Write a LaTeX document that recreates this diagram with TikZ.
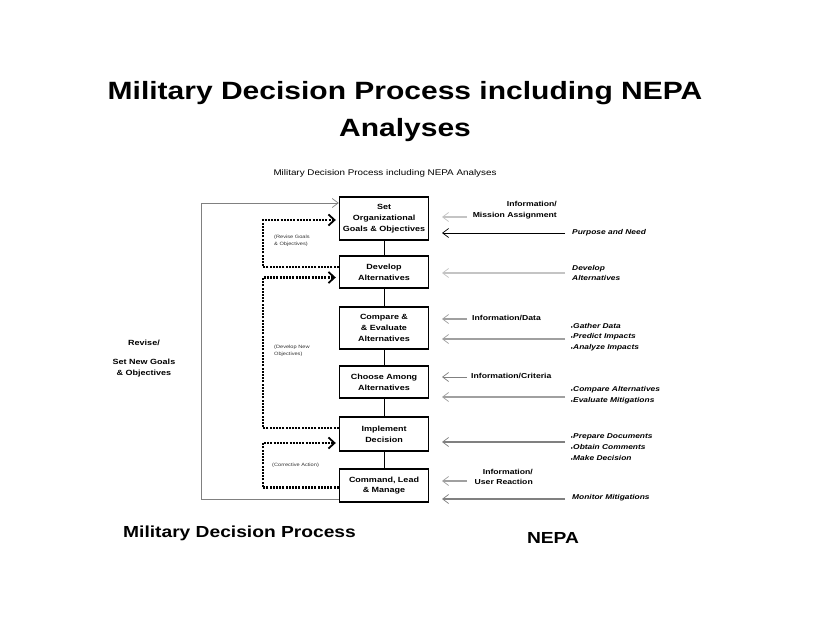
\documentclass[tikz,border=0pt]{standalone}
\usepackage{fontspec}
\setmainfont[FakeStretch=1.2]{Liberation Sans}
\newfontfamily\symf{DejaVu Sans}
\usetikzlibrary{arrows.meta}
\newcommand{\fs}[2]{\fontsize{#1}{#2}\selectfont}
\newcommand{\bul}{{\symf\fs{4}{4}▸}}
\definecolor{lgray}{HTML}{C4C4C4}
\definecolor{mgray}{HTML}{A0A0A0}
\definecolor{dgray}{HTML}{808080}
\begin{document}
\begin{tikzpicture}[x=1pt,y=-1pt,
  stepbox/.style={draw,line width=1.4pt,minimum width=89pt,inner sep=0pt,align=center,font=\bfseries\fs{7.5}{10.8}},
  link/.style={line width=0.8pt},
  dotloop/.style={line width=2.5pt,dash pattern=on 2pt off 1.2pt},
  dothead/.style={-{Straight Barb[length=6pt,width=11pt,line width=1.8pt 0]},shorten >=3pt},
  fback/.style={draw=dgray,line width=0.9pt,-{Straight Barb[length=6pt,width=9pt,line width=0.7pt 0]}},
  rarr/.style={-{Straight Barb[length=6pt,width=9pt,line width=0.7pt 0]}},
  nepa/.style={font=\bfseries\itshape\fs{7}{10.8},align=left,inner sep=0pt},
  info/.style={font=\bfseries\fs{7.2}{10.8},inner sep=0pt},
  tiny/.style={font=\fs{4.7}{7.5},align=left,inner sep=0pt,text=black!80},
  side/.style={font=\bfseries\fs{7.5}{11},align=center,inner sep=0pt}
]
\useasboundingbox[fill=white] (0,0) rectangle (813,628);

% titles
\node[font=\bfseries\fs{25}{37},align=center] (title) at (405,112) {Military Decision Process including NEPA\\Analyses};
\node[font=\fs{8.2}{10}] (sub) at (385,173) {Military Decision Process including NEPA Analyses};
\node[font=\bfseries\fs{16}{18}] (mdp) at (239.5,533) {Military Decision Process};
\node[font=\bfseries\fs{16}{18}] (nepa) at (553,538) {NEPA};

% process boxes
\node[stepbox,minimum height=43pt] (b1) at (384,218.5) {Set\\Organizational\\Goals \& Objectives};
\node[stepbox,minimum height=32pt] (b2) at (384,272) {Develop\\Alternatives};
\node[stepbox,minimum height=42pt] (b3) at (384,328) {Compare \&\\\& Evaluate\\Alternatives};
\node[stepbox,minimum height=32pt] (b4) at (384,382) {Choose Among\\Alternatives};
\node[stepbox,minimum height=34pt] (b5) at (384,434) {Implement\\Decision};
\node[stepbox,minimum height=33pt] (b6) at (384,485.5) {Command, Lead\\\& Manage};

\draw[link] (b1) -- (b2);
\draw[link] (b2) -- (b3);
\draw[link] (b3) -- (b4);
\draw[link] (b4) -- (b5);
\draw[link] (b5) -- (b6);

% outer feedback loop
\draw[fback] ([yshift=-13.5pt]b6.west) -- ++(-137,0) |- ([yshift=15.5pt]b1.west);

% dotted loops
\draw[dotloop,dothead] ([yshift=5pt]b2.west) -- ++(-76,0) |- ([yshift=-1.5pt]b1.west);
\draw[dotloop,dothead] ([yshift=6pt]b5.west) -- ++(-76,0) |- ([yshift=-5.5pt]b2.west);
\draw[dotloop,dothead] ([yshift=-2pt]b6.west) -- ++(-76,0) |- ([yshift=-9pt]b5.west);

\node[tiny,anchor=west] (l1) at (274,241) {(Revise Goals\\\& Objectives)};
\node[tiny,anchor=west] (l2) at (274,351) {(Develop New\\Objectives)};
\node[tiny,anchor=west] (l3) at (272,465) {(Corrective Action)};

% left side label
\node[side] (rev) at (144,343) {Revise/};
\node[side] (sng) at (144,368.5) {Set New Goals\\\& Objectives};

% right side arrows
\foreach \y/\x/\c/\w in {217/467/lgray/1.2, 233/565/black/0.8, 273/565/lgray/2,
  319/467/mgray/1.2, 339/565/mgray/2, 377/467/dgray/1, 397/565/mgray/2,
  442/565/dgray/2, 481/467/mgray/1.2, 499/565/dgray/1.4}
  \draw[rarr,draw=\c,line width=\w pt] (\x,\y) -- (442,\y);

% right side labels
\node[info,anchor=east,align=right] (i1) at (557,210.5) {Information/\\Mission Assignment};
\node[nepa,anchor=west] (n1) at (572,233) {Purpose and Need};
\node[nepa,anchor=west] (n2) at (572,273) {Develop\\Alternatives};
\node[info,anchor=west] (i2) at (472,318) {Information/Data};
\node[nepa,anchor=west] (n3) at (571,337) {\bul Gather Data\\\bul Predict Impacts\\\bul Analyze Impacts};
\node[info,anchor=west] (i3) at (471,376) {Information/Criteria};
\node[nepa,anchor=west] (n4) at (571,395) {\bul Compare Alternatives\\\bul Evaluate Mitigations};
\node[nepa,anchor=west] (n5) at (571,447) {\bul Prepare Documents\\\bul Obtain Comments\\\bul Make Decision};
\node[info,anchor=east,align=right] (i4) at (533,477) {Information/\\User Reaction};
\node[nepa,anchor=west] (n6) at (572,498) {Monitor Mitigations};
\end{tikzpicture}
\end{document}
